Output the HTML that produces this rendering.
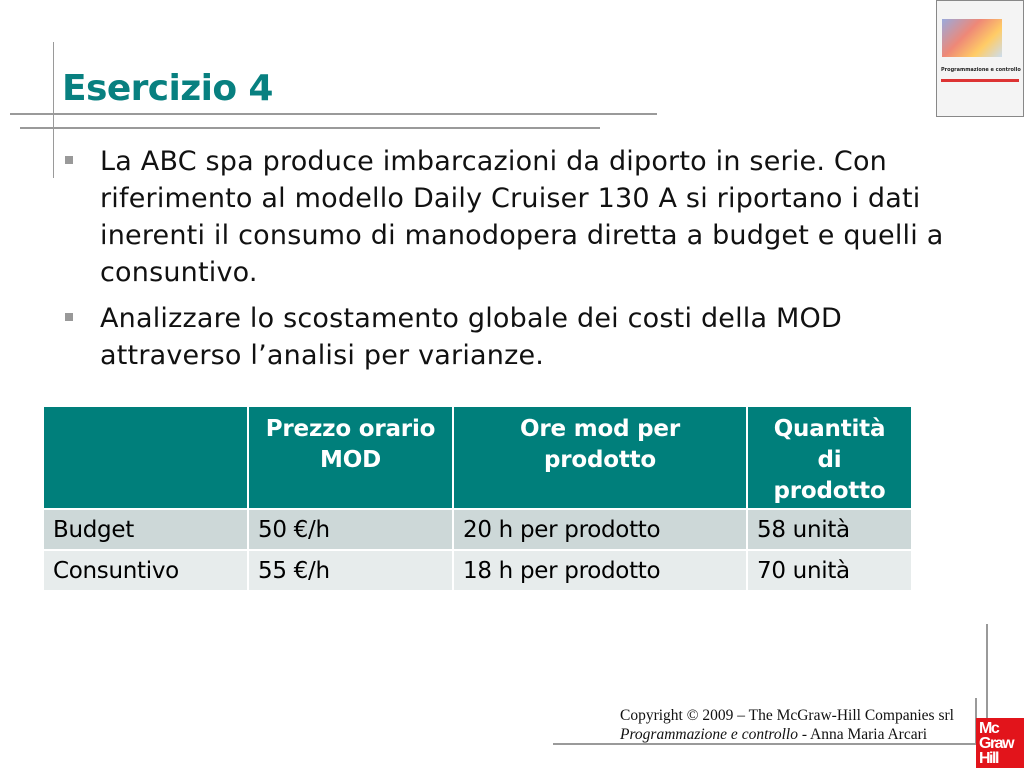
<!DOCTYPE html>
<html><head><meta charset="utf-8"><style>
body{margin:0;width:1024px;height:768px;position:relative;background:#fff;overflow:hidden;font-family:"DejaVu Sans","Liberation Sans",sans-serif}
.a{position:absolute}
.line{position:absolute;background:#9a9a9a}
.t{position:absolute;white-space:nowrap;font-size:27px;color:#111;letter-spacing:0.2px}
.bul{position:absolute;width:8px;height:8px;background:#999}
table{position:absolute;left:42px;top:405px;width:869px;table-layout:fixed;border-collapse:collapse;font-size:23px;letter-spacing:-0.3px}
td{border:2px solid #fff;padding:0 0 0 9px;height:39px;overflow:hidden;white-space:nowrap}
th{border:2px solid #fff;background:#007f7b;color:#fff;font-weight:bold;vertical-align:top;padding-top:7px;line-height:31px;height:91px;font-size:23px;letter-spacing:-0.2px}
tr.r1 td{background:#cdd8d8}
tr.r2 td{background:#e7ecec}
</style></head><body>
<div class="line" style="left:53px;top:42px;width:1px;height:136px"></div>
<div class="line" style="left:10px;top:113px;width:647px;height:2px"></div>
<div class="line" style="left:20px;top:127px;width:580px;height:2px"></div>
<div class="a" style="left:62px;top:68px;font-size:36px;font-weight:bold;color:#088080;letter-spacing:-0.6px">Esercizio 4</div>
<div class="bul" style="left:65px;top:156px"></div>
<div class="t" style="left:100px;top:143px;line-height:37px">La ABC spa produce imbarcazioni da diporto in serie. Con<br>riferimento al modello Daily Cruiser 130 A si riportano i dati<br>inerenti il consumo di manodopera diretta a budget e quelli a<br>consuntivo.</div>
<div class="bul" style="left:65px;top:313px"></div>
<div class="t" style="left:100px;top:300px;line-height:37px">Analizzare lo scostamento globale dei costi della MOD<br>attraverso l’analisi per varianze.</div>
<table>
<colgroup><col style="width:205px"><col style="width:205px"><col style="width:294px"><col style="width:165px"></colgroup>
<tr><th></th><th>Prezzo orario<br>MOD</th><th>Ore mod per<br>prodotto</th><th>Quantità<br>di<br>prodotto</th></tr>
<tr class="r1"><td>Budget</td><td>50 €/h</td><td>20 h per prodotto</td><td>58 unità</td></tr>
<tr class="r2"><td>Consuntivo</td><td>55 €/h</td><td>18 h per prodotto</td><td>70 unità</td></tr>
</table>
<div class="a" style="left:936px;top:0;width:86px;height:115px;border:1px solid #888;background:#f4f4f4;overflow:hidden">
<div class="a" style="left:5px;top:18px;width:60px;height:38px;background:linear-gradient(135deg,#9ad 0%,#e87 40%,#fc6 70%,#cde 100%)"></div>
<div class="a" style="left:4px;top:66px;font-size:5px;font-weight:bold;color:#222;white-space:nowrap">Programmazione e controllo</div>
<div class="a" style="left:4px;top:78px;width:78px;height:3px;background:#d33"></div>
</div>
<div class="line" style="left:986px;top:624px;width:2px;height:110px"></div>
<div class="line" style="left:975px;top:698px;width:2px;height:46px"></div>
<div class="line" style="left:553px;top:743px;width:424px;height:2px"></div>
<div class="a" style="left:620px;top:706px;font-family:'Liberation Serif',serif;font-size:15.5px;line-height:19px;color:#111;white-space:nowrap">Copyright © 2009 – The McGraw-Hill Companies srl<br><i>Programmazione e controllo</i> - Anna Maria Arcari</div>
<div class="a" style="left:976px;top:718px;width:48px;height:50px;background:#e2141b;color:#fff;font-family:'Liberation Sans',sans-serif;font-weight:bold;font-size:16px;line-height:15px;letter-spacing:-1.5px;padding:3px 0 0 3px;box-sizing:border-box">Mc<br>Graw<br>Hill</div>
</body></html>
